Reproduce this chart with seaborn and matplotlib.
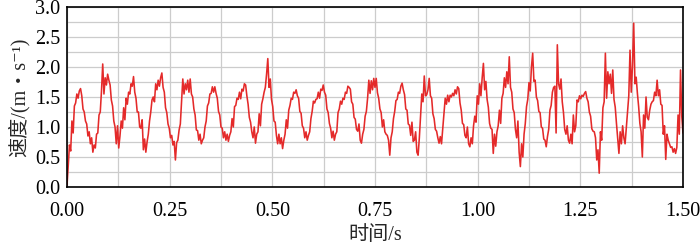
import numpy as np
import pandas as pd
import matplotlib
matplotlib.use("Agg")
import matplotlib.pyplot as plt
from matplotlib.ticker import MultipleLocator
import seaborn as sns

# ── Data: speed samples (one every 3 ms, 0 → 1.5 s) ────────────────────────────
speed = [
    0.03, 0.35, 0.70, 0.60, 1.10, 0.90, 1.35, 1.40, 1.55, 1.48,
    1.60, 1.64, 1.52, 1.30, 1.25, 1.10, 1.05, 0.85, 0.92, 0.72,
    0.82, 0.58, 0.70, 0.65, 0.88, 0.90, 1.20, 1.25, 1.60, 2.05,
    1.55, 1.82, 1.70, 1.88, 1.78, 1.70, 1.45, 1.35, 1.10, 1.00,
    0.72, 1.02, 0.65, 0.85, 1.10, 0.98, 1.32, 1.12, 1.48, 1.38,
    1.58, 1.55, 1.72, 1.68, 1.84, 1.58, 1.48, 1.25, 1.25, 1.00,
    0.98, 1.12, 0.62, 0.80, 0.58, 0.75, 0.88, 1.10, 1.25, 1.45,
    1.50, 1.42, 1.72, 1.62, 1.78, 1.68, 1.82, 1.90, 1.66, 1.58,
    1.32, 1.24, 1.05, 0.98, 0.82, 0.86, 0.70, 0.76, 0.45, 0.74,
    0.78, 0.95, 1.05, 1.42, 1.80, 1.55, 1.72, 1.62, 1.78, 1.58,
    1.80, 1.55, 1.50, 1.30, 1.20, 0.95, 0.94, 0.78, 0.88, 0.72,
    0.78, 0.82, 1.00, 1.10, 1.35, 1.40, 1.55, 1.56, 1.67, 1.58,
    1.67, 1.56, 1.48, 1.26, 1.20, 1.00, 0.98, 0.82, 0.92, 0.78,
    0.88, 0.76, 0.86, 0.92, 1.14, 1.00, 1.34, 1.36, 1.48, 1.46,
    1.58, 1.47, 1.63, 1.60, 1.72, 1.70, 1.52, 1.38, 1.16, 1.08,
    0.92, 0.82, 1.00, 0.73, 0.88, 0.92, 1.22, 1.02, 1.38, 1.47,
    1.58, 1.66, 1.88, 2.14, 1.66, 1.80, 1.46, 1.34, 1.10, 1.08,
    0.86, 0.72, 0.88, 0.72, 0.82, 0.64, 0.78, 0.88, 1.12, 0.98,
    1.28, 1.36, 1.48, 1.46, 1.58, 1.56, 1.62, 1.52, 1.48, 1.26,
    1.23, 1.02, 0.98, 0.82, 0.92, 0.78, 0.86, 0.92, 1.14, 1.26,
    1.43, 1.40, 1.46, 1.47, 1.58, 1.48, 1.63, 1.61, 1.70, 1.58,
    1.53, 1.30, 1.24, 1.06, 0.98, 0.82, 0.93, 0.78, 0.88, 0.92,
    1.24, 1.30, 1.43, 1.38, 1.48, 1.46, 1.58, 1.56, 1.68, 1.66,
    1.63, 1.42, 1.38, 1.16, 1.13, 0.96, 0.93, 1.05, 0.78, 0.73,
    0.88, 0.96, 1.18, 1.26, 1.48, 1.78, 1.56, 1.77, 1.62, 1.81,
    1.66, 1.81, 1.57, 1.48, 1.30, 1.24, 1.00, 1.12, 0.92, 0.88,
    0.86, 0.78, 0.53, 0.82, 0.92, 1.14, 1.26, 1.44, 1.46, 1.58,
    1.56, 1.68, 1.73, 1.62, 1.54, 1.30, 1.28, 1.05, 1.03, 0.86,
    1.08, 0.76, 0.78, 0.92, 0.58, 0.53, 0.82, 1.20, 1.55, 1.42,
    1.85, 1.52, 1.54, 1.62, 1.81, 1.52, 1.48, 1.22, 1.14, 0.96,
    0.93, 0.82, 0.73, 0.84, 0.72, 0.98, 1.22, 1.48, 1.38, 1.53,
    1.42, 1.53, 1.50, 1.56, 1.52, 1.62, 1.55, 1.67, 1.64, 1.40,
    1.28, 1.06, 1.04, 0.86, 0.82, 1.00, 0.72, 0.67, 0.82, 0.72,
    1.02, 1.18, 1.08, 1.52, 1.38, 1.72, 1.52, 1.82, 2.06, 1.62,
    1.76, 1.46, 1.33, 1.06, 0.98, 0.96, 0.56, 0.88, 0.68, 0.92,
    1.02, 1.28, 1.06, 1.48, 1.56, 1.82, 1.66, 1.92, 1.72, 2.17,
    1.66, 1.58, 1.30, 1.24, 0.96, 0.82, 1.10, 0.58, 0.34, 0.72,
    0.50, 0.88, 1.06, 1.34, 1.46, 1.74, 1.60, 2.00, 2.23, 1.76,
    1.78, 1.50, 1.44, 1.26, 1.24, 1.00, 0.98, 0.80, 0.78, 0.67,
    0.84, 0.96, 1.28, 1.36, 1.58, 1.66, 1.68, 0.90, 2.37, 1.72,
    1.63, 1.80, 1.42, 1.24, 0.96, 0.88, 1.02, 0.78, 0.73, 0.88,
    0.72, 1.20, 0.92, 1.02, 1.45, 1.42, 1.52, 1.47, 1.53, 1.51,
    1.56, 1.59, 1.48, 1.42, 1.25, 1.18, 0.97, 0.93, 0.92, 0.82,
    0.45, 0.62, 0.23, 0.92, 0.78, 1.32, 1.42, 2.23, 1.48, 1.92,
    1.72, 1.88, 1.56, 1.95, 1.46, 1.33, 1.06, 0.82, 0.56, 0.92,
    0.72, 1.02, 0.82, 0.72, 0.98, 1.22, 1.52, 2.28, 1.58, 2.02,
    2.73, 1.72, 1.83, 1.56, 1.34, 1.06, 0.92, 0.50, 1.20, 0.98,
    1.50, 1.16, 1.12, 1.28, 1.38, 1.42, 1.44, 1.58, 1.52, 1.78,
    1.52, 1.62, 1.38, 1.36, 0.88, 1.02, 0.46, 0.88, 0.78, 0.72,
    0.66, 0.67, 0.58, 0.64, 0.56, 0.66, 1.20, 0.88, 1.95, 1.18,
    0.90,
]
t_end = 1.5
time = np.linspace(0, t_end, len(speed))

xticks = [0.00, 0.25, 0.50, 0.75, 1.00, 1.25, 1.50]
xlabels = ["0.00", "0.25", "0.50", "0.75", "1.00", "1.25", "1.50"]
yticks = [0.0, 0.5, 1.0, 1.5, 2.0, 2.5, 3.0]
ylabels = ["0.0", "0.5", "1.0", "1.5", "2.0", "2.5", "3.0"]

df = pd.DataFrame({"time": time, "speed": speed})

# ── Style ─────────────────────────────────────────────────────────────────────
sns.set_style("white")
plt.rcParams["font.family"] = ["Liberation Serif", "Noto Sans CJK SC", "DejaVu Sans"]
plt.rcParams["axes.unicode_minus"] = False

fig = plt.figure(figsize=(7.0, 2.49), dpi=100)
ax = fig.add_axes([0.0957, 0.249, 0.88, 0.723])

sns.lineplot(data=df, x="time", y="speed", ax=ax, color="#e42a2a",
             linewidth=1.15, estimator=None, sort=False)

ax.set_xlim(0, 1.5)
ax.set_ylim(0, 3.0)

# grid: vertical every 0.125, horizontal every 0.25
ax.xaxis.set_minor_locator(MultipleLocator(0.125))
ax.yaxis.set_minor_locator(MultipleLocator(0.25))
ax.grid(which="both", color="#cccccc", linewidth=0.9)
ax.set_axisbelow(True)

ax.set_xticks(xticks)
ax.set_xticklabels(xlabels)
ax.set_yticks(yticks)
ax.set_yticklabels(ylabels)
ax.tick_params(which="major", direction="in", length=6, width=1.2,
               labelsize=14.5, colors="black", pad=5)
ax.tick_params(axis="x", pad=10.5)
ax.tick_params(which="minor", length=0)

for sp in ax.spines.values():
    sp.set_color("black")
    sp.set_linewidth(1.2)

ax.set_xlabel("时间/s", fontsize=14.5, labelpad=4)
ax.set_ylabel("速度/(m・s⁻¹)", fontsize=14.5, labelpad=4)

fig.savefig("out.png", dpi=100)
